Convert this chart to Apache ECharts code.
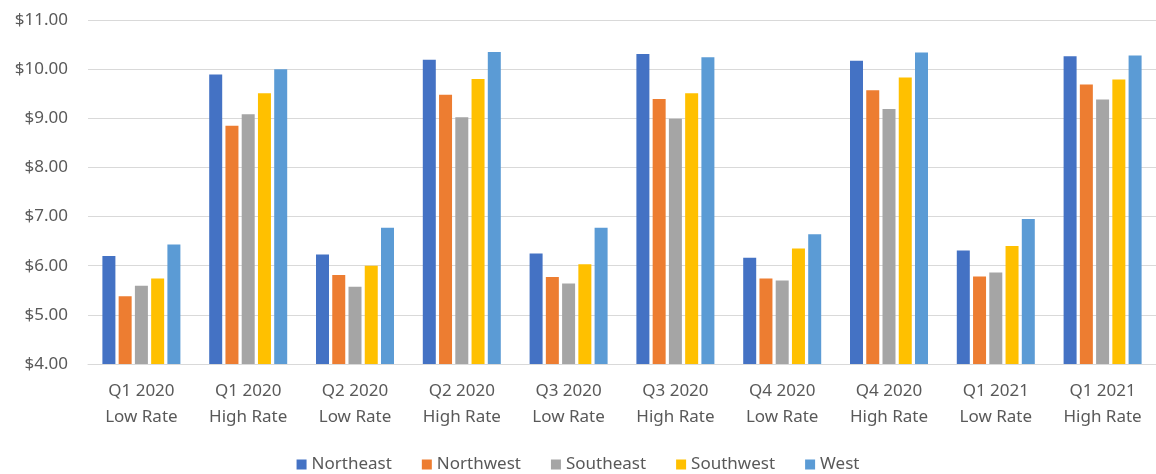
<!DOCTYPE html>
<html>
<head>
<meta charset="utf-8">
<script src="https://cdn.jsdelivr.net/npm/echarts@6/dist/echarts.min.js"></script>
<style>
  html, body { margin: 0; padding: 0; background: #fff; }
  #main { width: 1156px; height: 474px; }
</style>
</head>
<body>
<div id="main"></div>
<script>
// 类别与各区域数据
var categories = [
    'Q1 2020\nLow Rate', 'Q1 2020\nHigh Rate', 'Q2 2020\nLow Rate', 'Q2 2020\nHigh Rate',
    'Q3 2020\nLow Rate', 'Q3 2020\nHigh Rate', 'Q4 2020\nLow Rate', 'Q4 2020\nHigh Rate',
    'Q1 2021\nLow Rate', 'Q1 2021\nHigh Rate'
];
var seriesNames = ['Northeast', 'Northwest', 'Southeast', 'Southwest', 'West'];
var northeast = [6.20, 9.89, 6.23, 10.19, 6.25, 10.31, 6.16, 10.17, 6.31, 10.26];
var northwest = [5.38, 8.85, 5.81, 9.48, 5.77, 9.39, 5.74, 9.57, 5.78, 9.69];
var southeast = [5.59, 9.08, 5.57, 9.02, 5.64, 8.99, 5.70, 9.19, 5.86, 9.38];
var southwest = [5.74, 9.51, 6.00, 9.80, 6.03, 9.51, 6.35, 9.83, 6.40, 9.79];
var west      = [6.43, 10.00, 6.77, 10.35, 6.77, 10.24, 6.64, 10.34, 6.95, 10.28];
var colors = ['#4472C4', '#ED7D31', '#A5A5A5', '#FFC000', '#5B9BD5'];

var myChart = echarts.init(document.getElementById('main'));

var allData = [northeast, northwest, southeast, southwest, west];
var series = [];
for (var i = 0; i < seriesNames.length; i++) {
    series.push({
        name: seriesNames[i],
        type: 'bar',
        barWidth: 13,
        barGap: '25%',
        itemStyle: { color: colors[i] },
        data: allData[i]
    });
}

var textColor = '#595959';
var font = 'Noto Sans';

var option = {
    animation: false,
    color: colors,
    textStyle: { fontFamily: font },
    grid: {
        left: 88,
        width: 1070,
        top: 20,
        bottom: 110
    },
    legend: {
        data: seriesNames,
        left: 'center',
        top: 451,
        icon: 'rect',
        itemWidth: 10,
        itemHeight: 10,
        itemGap: 30,
        textStyle: { color: textColor, fontSize: 17, fontFamily: font }
    },
    xAxis: {
        type: 'category',
        data: categories,
        axisLine: { show: true, lineStyle: { color: '#d9d9d9', width: 1 } },
        axisTick: { show: false },
        axisLabel: {
            color: textColor,
            fontSize: 17,
            lineHeight: 26,
            margin: 14,
            interval: 0,
            fontFamily: font
        }
    },
    yAxis: {
        type: 'value',
        min: 4,
        max: 11,
        interval: 1,
        axisLine: { show: false },
        axisTick: { show: false },
        splitLine: { lineStyle: { color: '#d9d9d9', width: 1 } },
        axisLabel: {
            color: textColor,
            fontSize: 17,
            margin: 20,
            fontFamily: font,
            formatter: function (v) { return '$' + v.toFixed(2); }
        }
    },
    series: series
};

myChart.setOption(option);
</script>
</body>
</html>
